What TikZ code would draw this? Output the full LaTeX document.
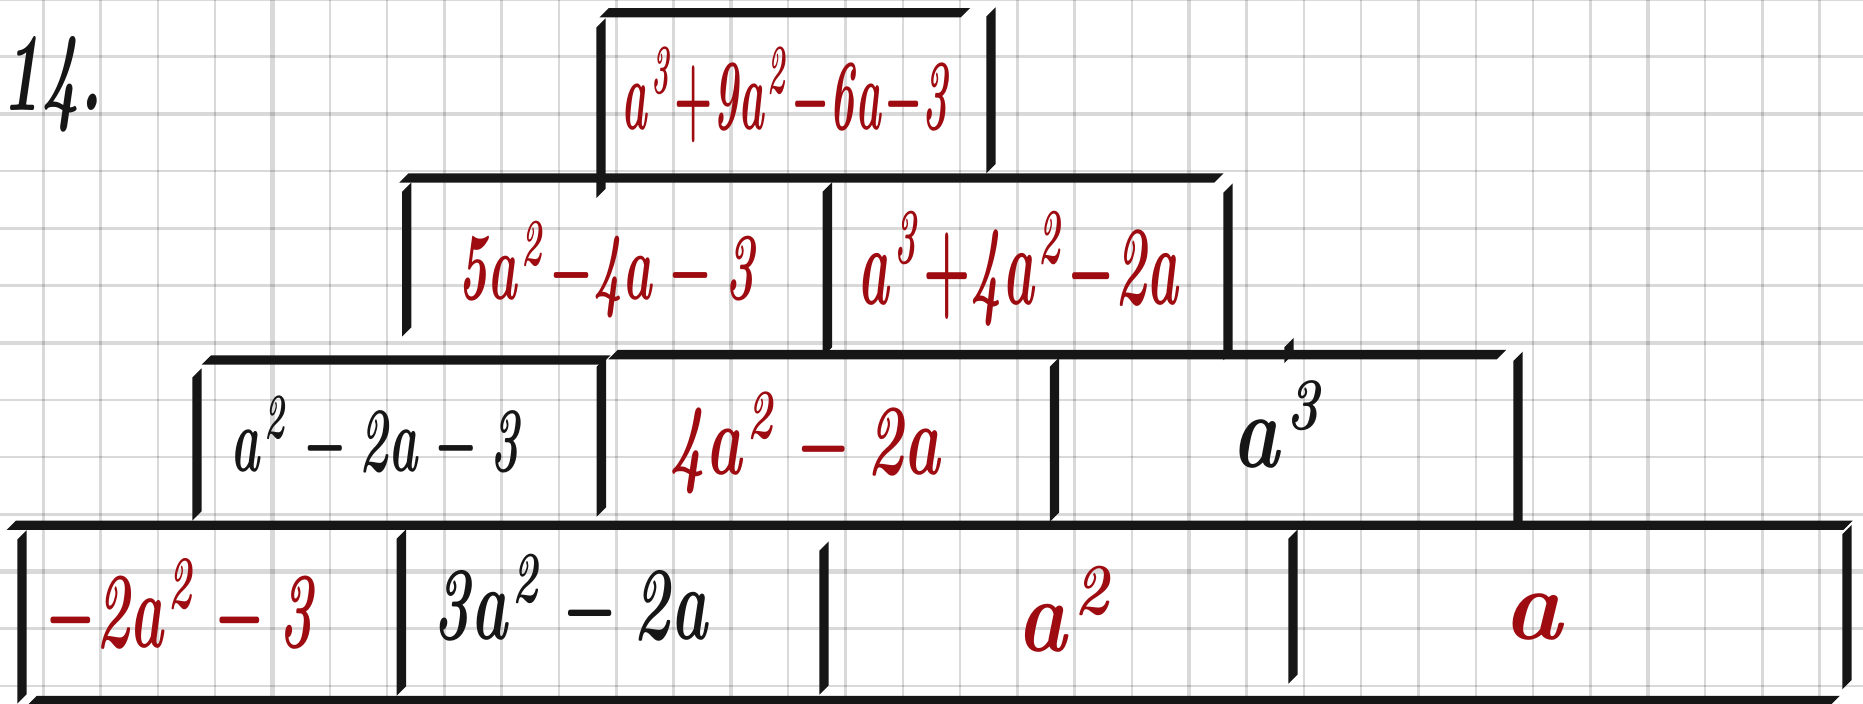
\documentclass[tikz,border=0pt]{standalone}
\usepackage{graphicx}
\usepackage{xcolor}
\usetikzlibrary{math}
\definecolor{inkred}{RGB}{158,12,17}
\definecolor{inkblack}{RGB}{22,22,22}
\tikzset{
  penink/.style={fill=inkblack},
  gridline/.style={draw=black, opacity=0.15},
  expr/.style={inner sep=0pt, anchor=base west, font=\boldmath},
}
% one pen stroke from (#1,#2) to (#3,#4), broad nib held at 45 degrees
\newcommand{\nib}[4]{\fill[penink] (#1+\pw,#2-\pw) -- (#3+\pw,#4-\pw) -- (#3-\pw,#4+\pw) -- (#1-\pw,#2+\pw) -- cycle;}

\begin{document}
\begin{tikzpicture}[x=0.01cm,y=-0.01cm]

\tikzmath{
\pw = 4.7; %half width of the pen
\gx = 57.3; %grid step
\gy = 57.2;
}

\fill[white] (0,0) rectangle (1863,704);
\useasboundingbox (0,0) rectangle (1863,704);

%grid:
\foreach \k in {0,...,31}{
  \pgfmathsetmacro{\lw}{ifthenelse(mod(\k,8)==4,1.2,0.7)}
  \draw[gridline, line width=\lw pt] (43.3+\gx*\k,0) -- (43.3+\gx*\k,704);
}
\foreach \k in {0,...,12}{
  \pgfmathsetmacro{\lw}{ifthenelse(mod(\k,4)==2,1.2,0.7)}
  \draw[gridline, line width=\lw pt] (0,-0.5+\gy*\k) -- (1863,-0.5+\gy*\k);
}

%number of the task
\node[anchor=base west, inner sep=0pt, text=inkblack, font=\bfseries\itshape] (num) at (2,111) {\resizebox{1.0cm}{0.74cm}{14.}};

%top brick
\nib{604}{12.8}{965.4}{12.8}
\nib{601}{23}{601}{193.4}
\nib{991}{12}{991}{168.7}

%third row
\nib{404}{178}{1218.8}{178}
\nib{406.7}{187.3}{406.7}{332}
\nib{827.4}{187}{827.4}{352}
\nib{1228}{188}{1228}{355.5}

%second row
\nib{206.3}{360}{606}{360}
\nib{613}{354.7}{1501.5}{354.7}
\nib{197}{373}{197}{516}
\nib{601.3}{362}{601.3}{512}
\nib{1054.5}{362}{1054.5}{517}
\nib{1518}{356.3}{1518}{525.4}
\nib{1289}{342.6}{1289}{358.4}

%first row
\nib{11.3}{525.3}{1848}{525.3}
\nib{22}{535}{22}{699}
\nib{401.3}{534}{401.3}{691}
\nib{824}{546}{824}{690}
\nib{1293}{534}{1293}{679}
\nib{1847}{529.5}{1847}{684.5}
\nib{32}{700.6}{1835}{700.6}

%entries
\node[expr, text=inkred] (t) at (621,130) {\resizebox{3.32cm}{0.82cm}{$\mathit{a^3{+}9a^2{-}6a{-}3}$}};
\node[expr, text=inkred] (m1) at (458,300) {\resizebox{3.02cm}{0.78cm}{$\mathit{5a^2{-}4a-3}$}};
\node[expr, text=inkred] (m2) at (857,305) {\resizebox{3.25cm}{0.92cm}{$\mathit{a^3{+}4a^2{-}2a}$}};
\node[expr, text=inkblack] (s1) at (230,472) {\resizebox{2.95cm}{0.75cm}{$\mathit{a^2-2a-3}$}};
\node[expr, text=inkred] (s2) at (669,475) {\resizebox{2.75cm}{0.82cm}{$\mathit{4a^2-2a}$}};
\node[expr, text=inkblack] (s3) at (1231,468) {\resizebox{0.99cm}{0.86cm}{$\mathit{a^3}$}};
\node[expr, text=inkred] (b1) at (45,648) {\resizebox{2.75cm}{0.88cm}{$\mathit{-2a^2-3}$}};
\node[expr, text=inkblack] (b2) at (433,640) {\resizebox{2.79cm}{0.85cm}{$\mathit{3a^2-2a}$}};
\node[expr, text=inkred] (b3) at (1016,652) {\resizebox{1.04cm}{0.85cm}{$\mathit{a^2}$}};
\node[expr, text=inkred] (b4) at (1502,640) {\resizebox{0.68cm}{0.45cm}{$\mathit{a}$}};

\end{tikzpicture}
\end{document}
